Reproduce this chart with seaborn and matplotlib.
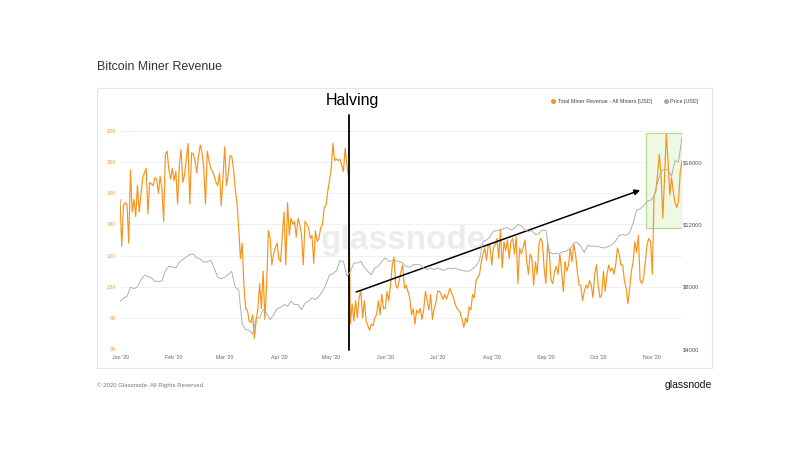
import numpy as np
import pandas as pd
import seaborn as sns
import matplotlib.pyplot as plt
import matplotlib.dates as mdates
from matplotlib.patches import Rectangle
from matplotlib.lines import Line2D
from matplotlib.ticker import FuncFormatter, MultipleLocator

# Daily total miner revenue (million USD), starting 2020-01-01
revenue_musd = [
    15.6, 12.6, 15.2, 15.4, 15.3, 12.8, 17.5, 14.8, 15.6, 14.5,
    16.5, 14.8, 15.9, 17.0, 17.3, 17.6, 14.7, 16.7, 16.6, 16.5,
    17.0, 16.9, 16.0, 17.1, 16.3, 14.2, 18.5, 18.7, 17.5, 16.9,
    17.6, 16.8, 17.4, 15.3, 17.8, 18.8, 16.7, 17.2, 18.2, 19.2,
    15.3, 18.6, 18.5, 18.1, 17.3, 18.4, 19.1, 18.6, 17.6, 15.3,
    18.7, 18.1, 17.6, 17.4, 17.1, 16.7, 16.5, 17.3, 15.2, 17.0,
    19.0, 16.5, 17.2, 18.4, 18.4, 17.6, 16.3, 15.4, 13.8, 11.8,
    12.8, 10.1, 8.6, 8.5, 7.8, 7.7, 8.2, 6.7, 7.8, 8.6,
    10.2, 8.6, 11.0, 7.9, 10.1, 13.6, 13.1, 11.4, 12.1, 12.5,
    12.8, 11.8, 11.6, 13.3, 14.8, 11.4, 15.4, 13.3, 14.4, 14.0,
    14.2, 13.2, 14.4, 14.0, 13.3, 11.4, 14.2, 14.0, 13.8, 13.1,
    13.3, 11.5, 13.6, 12.9, 13.1, 13.8, 14.0, 15.1, 15.2, 16.1,
    16.8, 17.6, 19.2, 18.1, 18.2, 18.1, 18.2, 17.8, 17.4, 18.9,
    17.8, 17.0, 7.6, 8.9, 7.8, 9.1, 8.0, 9.3, 9.7, 8.0,
    9.1, 7.8, 7.5, 7.2, 7.6, 7.5, 8.0, 8.2, 9.1, 8.2,
    9.5, 8.6, 8.6, 9.7, 9.1, 10.1, 11.4, 11.9, 10.1, 9.9,
    10.4, 11.0, 11.4, 9.9, 10.1, 9.7, 9.3, 8.2, 8.6, 7.6,
    8.5, 8.3, 8.6, 7.9, 8.5, 9.7, 9.1, 8.5, 9.5, 7.9,
    8.6, 9.0, 9.7, 9.7, 9.5, 9.2, 9.5, 9.2, 9.5, 9.9,
    9.6, 9.3, 8.9, 8.6, 8.5, 8.3, 7.9, 7.4, 8.0, 7.7,
    8.7, 8.5, 9.5, 9.3, 10.4, 10.6, 10.8, 11.6, 12.1, 12.5,
    11.7, 12.7, 12.6, 11.4, 12.5, 12.7, 13.1, 11.8, 13.7, 11.2,
    12.9, 12.3, 13.0, 11.8, 12.9, 13.1, 12.1, 13.2, 10.2, 12.5,
    12.1, 12.5, 13.0, 11.7, 10.8, 12.1, 11.8, 10.1, 11.6, 10.8,
    12.7, 13.1, 12.9, 11.2, 10.2, 12.8, 12.1, 10.4, 10.2, 11.0,
    11.3, 10.8, 12.1, 11.0, 9.7, 11.6, 11.0, 11.4, 12.5, 11.6,
    12.7, 12.1, 11.0, 10.1, 10.1, 9.1, 9.7, 10.1, 9.9, 10.4,
    10.1, 9.3, 10.8, 11.4, 10.1, 9.3, 9.5, 11.0, 9.7, 10.8,
    11.4, 11.0, 11.2, 10.8, 11.4, 12.5, 12.1, 11.4, 11.4, 10.4,
    9.9, 8.9, 9.9, 11.0, 11.6, 12.9, 12.2, 13.3, 10.4, 10.2,
    10.6, 11.6, 12.7, 13.1, 12.9, 10.8, 15.9, 16.1, 17.2, 18.5,
    17.2, 14.4, 17.0, 19.8, 18.1, 15.9, 17.0, 16.1, 15.4, 15.1,
    15.5, 17.4, 18.1,
]

# BTC price (USD), every second day starting 2020-01-01
price_usd = [
    7050, 7280, 7380, 7960, 7880, 8000, 8450, 8730, 8670, 8560,
    8350, 8350, 8350, 9030, 9310, 9270, 9200, 9590, 9740, 9910,
    10060, 10100, 9850, 9780, 9590, 9590, 9700, 9200, 8600, 8520,
    8620, 8770, 8990, 7960, 7810, 5600, 5250, 5200, 4950, 5990,
    5990, 6530, 6310, 5880, 6200, 6590, 6680, 6850, 6740, 7060,
    6850, 6850, 6530, 6950, 7060, 7280, 7170, 7380, 7700, 8130,
    8770, 8840, 9030, 9670, 9630, 8670, 8990, 9520, 9520, 9630,
    9250, 8990, 8770, 9200, 9310, 9630, 9850, 9630, 9670, 9670,
    9630, 9520, 9310, 9250, 9420, 9420, 9400, 9200, 9100, 9200,
    9100, 9200, 9100, 9050, 9200, 9150, 9200, 9100, 9050, 9000,
    9000, 9150, 9350, 9700, 10900, 11000, 11200, 11560, 11600, 11650,
    11750, 11800, 11650, 11750, 12000, 11900, 11650, 11550, 11600, 11350,
    11400, 11650, 11600, 10250, 10100, 10150, 10150, 10250, 10300, 10450,
    10800, 10850, 10600, 10200, 10650, 10600, 10600, 10600, 10500, 10500,
    10600, 10700, 10950, 11300, 11350, 11300, 11450, 12100, 12900, 13000,
    13200, 13480, 13550, 13800, 14700, 15400, 15550, 15500, 15100, 16100,
    16000, 17600,
]

start_date = '2020-01-01'
end_date = '2020-11-18'
halving_date = '2020-05-11'

df_rev = pd.DataFrame({
    'date': pd.date_range(start_date, periods=len(revenue_musd), freq='D'),
    'revenue': np.array(revenue_musd) * 1e6,
})
df_price = pd.DataFrame({
    'date': pd.date_range(start_date, periods=len(price_usd), freq='2D'),
    'price': price_usd,
})

orange = '#f7931a'
grey = '#ababab'

sns.set_theme(style='white')
plt.rcParams['font.family'] = ['Liberation Sans', 'DejaVu Sans']

W, H = 810, 450
fig = plt.figure(figsize=(8.1, 4.5), dpi=100)
fig.patch.set_facecolor('white')

# card behind the chart
card = Rectangle((97 / W, 1 - 368 / H), 615 / W, 280 / H, transform=fig.transFigure,
                 facecolor='white', edgecolor='#e6e6e6', lw=0.8, zorder=-1)
fig.patches.append(card)

ax = fig.add_axes([120 / W, 1 - 349 / H, 562 / W, 218 / H])
ax.patch.set_alpha(0)
ax2 = ax.twinx()

# watermark
ax.text(0.505, 0.5, 'glassnode', transform=ax.transAxes, fontsize=24, color='#ececec',
        ha='center', va='center', zorder=0, fontweight='bold')

sns.lineplot(data=df_rev, x='date', y='revenue', ax=ax, color=orange, linewidth=0.85, zorder=3)
sns.lineplot(data=df_price, x='date', y='price', ax=ax2, color=grey, linewidth=0.65)

ax.set_xlim(pd.Timestamp(start_date), pd.Timestamp(end_date))
ax.set_ylim(6e6, 20e6)
ax2.set_ylim(4000, 18000)

ax.yaxis.set_major_locator(MultipleLocator(2e6))
ax.yaxis.set_major_formatter(FuncFormatter(lambda v, p: f'{v / 1e6:.0f}M'))
ax2.yaxis.set_major_locator(MultipleLocator(4000))
ax2.yaxis.set_major_formatter(FuncFormatter(lambda v, p: f'${v:.0f}'))
ax.xaxis.set_major_locator(mdates.MonthLocator())
ax.xaxis.set_major_formatter(mdates.DateFormatter("%b '%y"))

ax.grid(axis='y', color='#eeeeee', lw=0.6)
ax.grid(axis='x', visible=False)
for a in (ax, ax2):
    for s in a.spines.values():
        s.set_visible(False)
    a.set_xlabel('')
    a.set_ylabel('')
ax.tick_params(axis='y', length=0, pad=3, labelsize=3.3, labelcolor='#f0a040')
ax.tick_params(axis='x', length=0, pad=4, labelsize=3.8, labelcolor='#666666')
ax2.tick_params(axis='y', length=0, pad=1, labelsize=4.2, labelcolor='#555555')

# green highlight box
box_start = mdates.date2num(pd.Timestamp('2020-10-28 10:00'))
box_end = mdates.date2num(pd.Timestamp('2020-11-18'))
ax.add_patch(Rectangle((box_start, 13.8e6), box_end - box_start, 6.07e6,
                       facecolor='#eef8e3', edgecolor='#b3de92', lw=0.9, zorder=1))

# halving line and label
ax.axvline(pd.Timestamp(halving_date), ymin=-0.005, ymax=1.073, color='black', lw=1.3,
           clip_on=False, zorder=5)
fig.text(352 / W, 1 - 101 / H, 'Halving', ha='center', va='center', fontsize=11.5, color='black')

# trend arrow
ax.annotate('', xy=(pd.Timestamp('2020-10-25'), 16.2e6),
            xytext=(pd.Timestamp('2020-05-15 08:00'), 9.66e6),
            arrowprops=dict(arrowstyle='-|>', color='black', lw=1.1, mutation_scale=8,
                            shrinkA=0, shrinkB=0), zorder=6)

handles = [
    Line2D([], [], marker='o', linestyle='', color=orange, markersize=2.6),
    Line2D([], [], marker='o', linestyle='', color=grey, markersize=2.6),
]
fig.legend(handles, ['Total Miner Revenue - All Miners [USD]', 'Price [USD]'],
           loc='center right', bbox_to_anchor=(703 / W, 1 - 101 / H), ncol=2, fontsize=3.9,
           frameon=False, handletextpad=0.4, columnspacing=2.2, handlelength=0.8,
           labelcolor='#444444')

fig.text(97 / W, 1 - 67 / H, 'Bitcoin Miner Revenue', fontsize=8.9, color='#333333', va='center')
fig.text(97 / W, 1 - 385 / H, '\u00a9 2020 Glassnode. All Rights Reserved.', fontsize=4.3,
         color='#777777', va='center')
fig.text(712 / W, 1 - 385 / H, 'glassnode', fontsize=7.5, color='#111111', ha='right',
         va='center', fontweight='medium')

fig.savefig('out.png', dpi=100)
